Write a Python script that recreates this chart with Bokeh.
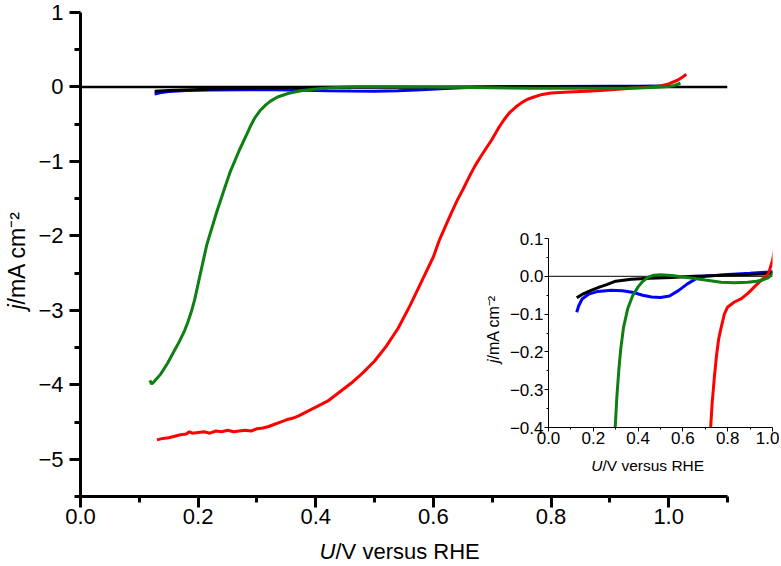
import math
from bokeh.plotting import figure
from bokeh.models import Range1d, FixedTicker, Span, Label
from bokeh.layouts import column
from bokeh.embed import file_html
from bokeh.resources import INLINE

FONT = "Liberation Sans"

# ---------------- data (U / V versus RHE, j / mA cm^-2) ----------------
BLACK_U = [0.126, 0.15, 0.19, 0.23, 0.26, 0.30, 0.37, 0.45, 0.55, 0.65, 0.75, 0.85, 0.95, 1.0]
BLACK_J = [-0.057, -0.048, -0.037, -0.028, -0.022, -0.013, -0.008, -0.005, -0.003, 0.0, 0.002, 0.004, 0.006, 0.008]

BLUE_U = [0.126, 0.135, 0.15, 0.18, 0.22, 0.28, 0.33, 0.38, 0.42, 0.46, 0.50, 0.54, 0.58, 0.62,
          0.66, 0.70, 0.80, 0.90, 0.95, 1.0]
BLUE_J = [-0.095, -0.078, -0.06, -0.047, -0.04, -0.037, -0.038, -0.043, -0.05, -0.055, -0.056, -0.052,
          -0.038, -0.02, -0.006, 0.0, 0.005, 0.008, 0.01, 0.012]

GREEN_U = [0.118, 0.121, 0.126, 0.136, 0.148, 0.159, 0.168, 0.176, 0.182, 0.188, 0.194, 0.204,
           0.215, 0.232, 0.245, 0.255, 0.270, 0.283, 0.290, 0.296, 0.305, 0.315, 0.323,
           0.335, 0.354, 0.375, 0.400, 0.420, 0.443, 0.47, 0.50, 0.55, 0.62,
           0.70, 0.77, 0.83, 0.89, 0.93, 0.96, 0.98, 1.00, 1.01, 1.02]
GREEN_J = [-3.94, -3.99, -3.95, -3.86, -3.71, -3.55, -3.42, -3.29, -3.17, -3.03, -2.86, -2.50,
           -2.11, -1.67, -1.36, -1.13, -0.85, -0.63, -0.51, -0.42, -0.32, -0.24, -0.19,
           -0.135, -0.085, -0.052, -0.028, -0.014, -0.003, 0.003, 0.004, 0.002, -0.003,
           -0.010, -0.016, -0.017, -0.016, -0.013, -0.009, -0.004, 0.006, 0.02, 0.05]

RED_U = [0.13, 0.14, 0.15, 0.16, 0.17, 0.18, 0.185, 0.19, 0.20, 0.21,
         0.22, 0.23, 0.24, 0.25, 0.26, 0.27, 0.28, 0.29, 0.30, 0.31,
         0.32, 0.33, 0.34, 0.35, 0.36, 0.37, 0.38, 0.39, 0.40, 0.41,
         0.42, 0.43, 0.44, 0.45, 0.46, 0.48, 0.50, 0.52, 0.54, 0.56, 0.58,
         0.60, 0.61, 0.62, 0.63, 0.64, 0.65, 0.66, 0.67, 0.68, 0.69, 0.70, 0.71, 0.72,
         0.73, 0.74, 0.75, 0.76, 0.771, 0.785, 0.80, 0.83, 0.861, 0.89, 0.919, 0.95,
         0.982, 1.0, 1.015, 1.025, 1.03]
RED_J = [-4.74, -4.72, -4.71, -4.69, -4.67, -4.66, -4.63, -4.65, -4.64, -4.63,
         -4.65, -4.62, -4.63, -4.61, -4.63, -4.62, -4.61, -4.62, -4.59, -4.58,
         -4.56, -4.53, -4.50, -4.47, -4.45, -4.42, -4.38, -4.34, -4.30, -4.26,
         -4.22, -4.16, -4.10, -4.04, -3.98, -3.84, -3.68, -3.48, -3.24, -2.94, -2.61,
         -2.28, -2.06, -1.88, -1.70, -1.53, -1.38, -1.22, -1.07, -0.94, -0.82, -0.70, -0.56, -0.44,
         -0.34, -0.27, -0.21, -0.165, -0.135, -0.10, -0.081, -0.068, -0.059, -0.045, -0.028, -0.01,
         0.007, 0.042, 0.09, 0.14, 0.17]

# drawing order: blue, black, red, green
SERIES = [("#0000ff", BLUE_U, BLUE_J), ("black", BLACK_U, BLACK_J),
          ("#ff0000", RED_U, RED_J), ("#0e7f12", GREEN_U, GREEN_J)]

# ticks
MAIN_X_TICKS = [0.0, 0.2, 0.4, 0.6, 0.8, 1.0]
MAIN_X_LABELS = ["0.0", "0.2", "0.4", "0.6", "0.8", "1.0"]
MAIN_X_MINOR = [0.1, 0.3, 0.5, 0.7, 0.9, 1.1]
MAIN_Y_TICKS = [-5, -4, -3, -2, -1, 0, 1]
MAIN_Y_LABELS = ["\u22125", "\u22124", "\u22123", "\u22122", "\u22121", "0", "1"]
MAIN_Y_MINOR = [-5.5, -4.5, -3.5, -2.5, -1.5, -0.5, 0.5]

INSET_X_TICKS = [0.0, 0.2, 0.4, 0.6, 0.8, 1.0]
INSET_X_LABELS = ["0.0", "0.2", "0.4", "0.6", "0.8", "1.0"]
INSET_X_MINOR = [0.1, 0.3, 0.5, 0.7, 0.9]
INSET_Y_TICKS = [-0.4, -0.3, -0.2, -0.1, 0.0, 0.1]
INSET_Y_LABELS = ["\u22120.4", "\u22120.3", "\u22120.2", "\u22120.1", "0.0", "0.1"]
INSET_Y_MINOR = [-0.35, -0.25, -0.15, -0.05, 0.05]

X_TITLE = ("U", "/V versus RHE")
Y_TITLE = ("j", "/mA cm\u207b\u00b2")

W, H = 780, 565


def style_axes(fig, xt, xl, xm, yt, yl, ym, lw, tick_out, minor_out, fsize, standoff_x, standoff_y):
    fig.xaxis.ticker = FixedTicker(ticks=xt, minor_ticks=xm)
    fig.yaxis.ticker = FixedTicker(ticks=yt, minor_ticks=ym)
    fig.xaxis.major_label_overrides = {t: s for t, s in zip(xt, xl)}
    fig.yaxis.major_label_overrides = {t: s for t, s in zip(yt, yl)}
    for ax in (fig.xaxis[0], fig.yaxis[0]):
        ax.axis_line_width = lw
        ax.axis_line_color = "black"
        ax.major_tick_line_width = lw
        ax.minor_tick_line_width = lw
        ax.major_tick_line_color = "black"
        ax.minor_tick_line_color = "black"
        ax.major_tick_in = 0
        ax.minor_tick_in = 0
        ax.major_tick_out = tick_out
        ax.minor_tick_out = minor_out
        ax.major_label_text_font = FONT
        ax.major_label_text_font_size = fsize
        ax.major_label_text_color = "black"
    fig.xaxis.major_label_standoff = standoff_x
    fig.yaxis.major_label_standoff = standoff_y
    fig.xgrid.visible = False
    fig.ygrid.visible = False
    fig.outline_line_color = None


# ---------------- main plot ----------------
p = figure(width=W, height=H, x_range=Range1d(0, 1.1), y_range=Range1d(-5.5, 1),
           output_backend="svg", toolbar_location=None, frame_align=False,
           min_border_left=80, min_border_right=53, min_border_top=12, min_border_bottom=69)
style_axes(p, MAIN_X_TICKS, MAIN_X_LABELS, MAIN_X_MINOR, MAIN_Y_TICKS, MAIN_Y_LABELS, MAIN_Y_MINOR,
           3, 11, 6, "22px", 1, 6)
p.add_layout(Span(location=0, dimension="width", line_color="black", line_width=2.5, level="underlay"))
for color, u, j in SERIES:
    p.line(u, j, line_color=color, line_width=3)

# ---------------- inset ----------------
inset = figure(width=291, height=240, x_range=Range1d(0, 1), y_range=Range1d(-0.4, 0.1),
               output_backend="svg", toolbar_location=None, frame_align=False,
               min_border_left=60, min_border_right=7, min_border_top=8, min_border_bottom=43,
               margin=(-335, 0, 0, 488))
style_axes(inset, INSET_X_TICKS, INSET_X_LABELS, INSET_X_MINOR, INSET_Y_TICKS, INSET_Y_LABELS,
           INSET_Y_MINOR, 1, 4, 2, "17px", 0, 1)
inset.add_layout(Span(location=0, dimension="width", line_color="black", line_width=1, level="underlay"))
for color, u, j in SERIES:
    inset.line(u, j, line_color=color, line_width=3)

# ---------------- transparent overlay carrying the axis titles ----------------
ov = figure(width=W, height=H, x_range=Range1d(0, W), y_range=Range1d(H, 0),
            x_axis_location=None, y_axis_location=None, min_border=0, frame_align=False,
            output_backend="svg", toolbar_location=None,
            background_fill_color=None, border_fill_color=None, outline_line_color=None,
            margin=(-470, 0, 0, 0))
ov.grid.visible = False


def add_titles(fig, xsplit, ysplit, fsize, yfsize):
    kw = dict(text_baseline="middle", text_font=FONT, text_color="black")
    fig.add_layout(Label(x=xsplit[0], y=xsplit[1], text=X_TITLE[0], text_align="right",
                         text_font_style="italic", text_font_size=fsize, **kw))
    fig.add_layout(Label(x=xsplit[0], y=xsplit[1], text=X_TITLE[1], text_align="left",
                         text_font_size=fsize, **kw))
    fig.add_layout(Label(x=ysplit[0], y=ysplit[1], angle=math.pi / 2, text=Y_TITLE[0],
                         text_align="right", text_font_style="italic", text_font_size=yfsize, **kw))
    fig.add_layout(Label(x=ysplit[0], y=ysplit[1], angle=math.pi / 2, text=Y_TITLE[1],
                         text_align="left", text_font_size=yfsize, **kw))


add_titles(ov, (335, 551), (16, 304), "22px", "23px")       # main chart titles
add_titles(ov, (602, 465), (493, 359), "15.5px", "16px")    # inset titles

layout = column(p, inset, ov)
open("out.html", "w").write(file_html(layout, INLINE))
